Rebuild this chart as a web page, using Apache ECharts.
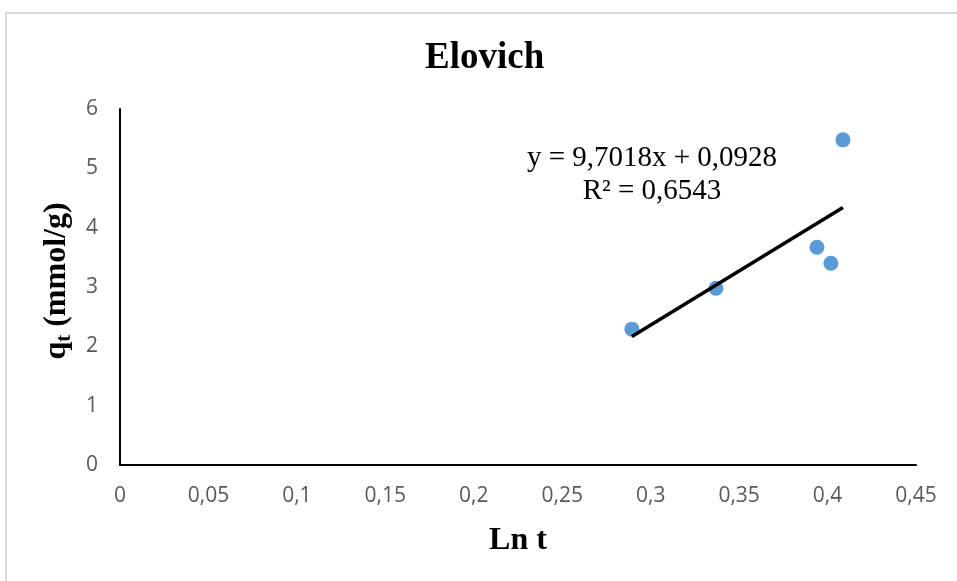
<!DOCTYPE html>
<html><head><meta charset="utf-8">
<script src="https://cdn.jsdelivr.net/npm/echarts@6/dist/echarts.min.js"></script>
<style>html,body{margin:0;padding:0;background:#fff}#c{width:957px;height:581px}</style>
</head><body><div id="c"></div>
<script>
const lnT = [0.2894, 0.3369, 0.3940, 0.4019, 0.4087];
const qt = [2.29, 2.98, 3.67, 3.40, 5.48];
const xTicks = [0, 0.05, 0.1, 0.15, 0.2, 0.25, 0.3, 0.35, 0.4, 0.45];
const yTicks = [0, 1, 2, 3, 4, 5, 6];
const titleText = 'Elovich';
const eqText = 'y = 9,7018x + 0,0928';
const r2Text = 'R² = 0,6543';

// least-squares trendline from the data
const n = lnT.length;
const mx = lnT.reduce((a,b)=>a+b,0)/n, my = qt.reduce((a,b)=>a+b,0)/n;
let sxy=0, sxx=0;
for (let i=0;i<n;i++){sxy+=(lnT[i]-mx)*(qt[i]-my); sxx+=(lnT[i]-mx)**2;}
const slope = sxy/sxx, icpt = my - slope*mx;
const xMin = Math.min(...lnT), xMax = Math.max(...lnT);
const trend = [[xMin, slope*xMin+icpt],[xMax, slope*xMax+icpt]];

const serif = '"Liberation Serif","Times New Roman",serif';
const tickFont = '"Open Sans",sans-serif';
const chart = echarts.init(document.getElementById('c'));
chart.setOption({
  animation:false,
  backgroundColor:'#fff',
  title:{text:titleText,left:420,top:35,textStyle:{fontFamily:serif,fontWeight:'bold',fontSize:37,color:'#000'}},
  grid:{left:120,right:41,top:109,bottom:116},
  xAxis:{type:'value',min:xTicks[0],max:xTicks[xTicks.length-1],interval:0.05,
    axisLine:{lineStyle:{color:'#000',width:2}},axisTick:{show:false},splitLine:{show:false},
    axisLabel:{margin:21,color:'#595959',fontSize:21,fontFamily:tickFont,formatter:v=>String(+v.toFixed(2)).replace('.',',')},
    name:'Ln t',nameLocation:'middle',nameGap:60,
    nameTextStyle:{fontFamily:serif,fontWeight:'bold',fontSize:32,color:'#000'}},
  yAxis:{type:'value',min:yTicks[0],max:yTicks[yTicks.length-1],interval:1,
    axisLine:{show:true,lineStyle:{color:'#000',width:2}},axisTick:{show:false},splitLine:{show:false},
    axisLabel:{margin:22,color:'#595959',fontSize:21,fontFamily:tickFont},
    name:'{q|q}{t|t}{q| (mmol/g)}',nameLocation:'middle',nameGap:42,nameRotate:90,
    nameTextStyle:{padding:[0,0,0,12],rich:{
      q:{fontFamily:serif,fontWeight:'bold',fontSize:32,color:'#000'},
      t:{fontFamily:serif,fontWeight:'bold',fontSize:21,color:'#000',padding:[16,0,0,0]}}}},
  graphic:[
    {type:'rect',shape:{x:6,y:13,width:1000,height:1000},style:{fill:'none',stroke:'#d9d9d9',lineWidth:2},silent:true},
    {type:'text',x:652,y:158,style:{text:eqText,align:'center',verticalAlign:'middle',font:'29px "Liberation Serif",serif',fill:'#000'}},
    {type:'text',x:652,y:191,style:{text:r2Text,align:'center',verticalAlign:'middle',font:'29px "Liberation Serif",serif',fill:'#000'}}
  ],
  series:[
    {type:'line',data:trend,symbol:'none',lineStyle:{color:'#000',width:3.5},z:3},
    {type:'scatter',data:lnT.map((x,i)=>[x,qt[i]]),symbolSize:15,itemStyle:{color:'#5b9bd5',opacity:1},z:2}
  ]
});
</script></body></html>
